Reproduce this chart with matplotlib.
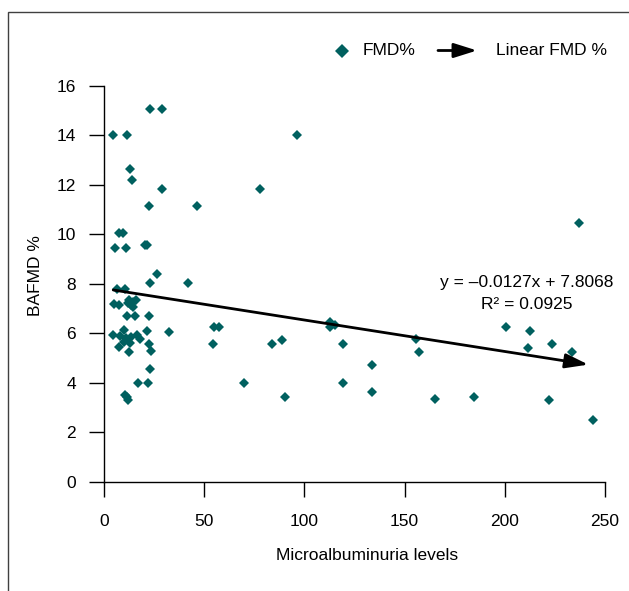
import matplotlib
matplotlib.use("Agg")
import matplotlib.pyplot as plt
from matplotlib.lines import Line2D
from matplotlib.patches import Rectangle, FancyArrowPatch

plt.rcParams['font.family'] = ['Liberation Sans', 'DejaVu Sans']

# --------------------------------------
#    DATA
# --------------------------------------
micro = [23.1, 28.8, 4.6, 11.5, 12.8, 13.8, 28.8, 22.6, 46.6,
         7.5, 9.6, 5.5, 11.0, 20.5, 21.6, 26.5, 22.9, 42.1,
         6.6, 10.5, 5.0, 7.7, 12.5, 14.3, 15.9, 13.3, 14.6, 12.0,
         11.4, 15.7, 22.6, 10.0, 21.3, 32.2,
         4.6, 8.0, 10.8, 13.3, 16.6, 18.0, 10.0, 13.0, 22.5,
         7.5, 23.7, 12.5, 23.2, 17.1, 22.1, 10.4, 11.5, 12.0,
         96.5, 77.8, 54.9, 57.5, 54.5, 83.8, 88.6, 112.8, 115.3, 112.8,
         119.1, 133.6, 69.9, 119.4, 133.7, 90.3,
         236.9, 200.6, 212.6, 211.7, 223.7, 233.7,
         155.7, 157.2, 165.2, 184.6, 221.9, 244.2]
fmd = [15.06, 15.06, 13.99, 13.99, 12.62, 12.19, 11.81, 11.14, 11.14,
       10.05, 10.05, 9.46, 9.46, 9.58, 9.56, 8.38, 8.03, 8.03,
       7.80, 7.77, 7.17, 7.15, 7.36, 7.28, 7.36, 7.15, 7.08, 7.22,
       6.70, 6.70, 6.70, 6.13, 6.09, 6.05,
       5.93, 5.89, 5.80, 5.86, 5.93, 5.76, 5.65, 5.62, 5.58,
       5.43, 5.27, 5.25, 4.56, 4.01, 4.00, 3.51, 3.42, 3.31,
       13.99, 11.81, 6.27, 6.27, 5.57, 5.57, 5.73, 6.45, 6.34, 6.24,
       5.56, 4.72, 3.98, 3.98, 3.64, 3.44,
       10.47, 6.27, 6.09, 5.42, 5.57, 5.26,
       5.76, 5.25, 3.35, 3.44, 3.31, 2.50]

slope = -0.0127
intercept = 7.8068
r2 = 0.0925

xticks = [0, 50, 100, 150, 200, 250]
yticks = [0, 2, 4, 6, 8, 10, 12, 14, 16]

teal = "#00605f"

# --------------------------------------
#    FIGURE
# --------------------------------------
fig = plt.figure(figsize=(6.29, 5.91), dpi=100)
ax = fig.add_axes([104/629, 1-482/591, 501/629, 396.5/591])

ax.plot(micro, fmd, "D", color=teal, markersize=5.4, markeredgewidth=0, zorder=3)

# trend line as arrow
x0 = min(micro)
x1 = max(micro) - 2.5
ax.annotate("", xy=(x1, slope*x1 + intercept), xytext=(x0, slope*x0 + intercept),
            arrowprops=dict(arrowstyle="-|>,head_length=0.7,head_width=0.22", mutation_scale=20,
                            lw=2, color="black", shrinkA=0, shrinkB=0), zorder=4)

ax.text(0.843, 0.502, "y = \u2013%.4fx + %.4f" % (-slope, intercept),
        transform=ax.transAxes, ha="center", va="center", fontsize=12.5)
ax.text(0.843, 0.447, "R\u00b2 = %.4f" % r2, transform=ax.transAxes, ha="center", va="center", fontsize=12.5)

ax.set_xlim(0, 250)
ax.set_ylim(0, 16)
ax.set_xticks(xticks)
ax.set_yticks(yticks)
ax.tick_params(direction="out", length=11, width=1, labelsize=12.5)
ax.tick_params(axis="x", pad=12)
ax.tick_params(axis="y", pad=9)
ax.spines["top"].set_visible(False)
ax.spines["right"].set_visible(False)
ax.spines["left"].set_linewidth(1)
ax.spines["bottom"].set_linewidth(1)

ax.set_xlabel("Microalbuminuria levels", fontsize=12.5, va="center")
ax.xaxis.set_label_coords(0.525, -0.185)
ax.set_ylabel("BAFMD %", fontsize=12.5, va="center")
ax.yaxis.set_label_coords(-0.136, 0.52)

# --------------------------------------
#    LEGEND (drawn by hand)
# --------------------------------------
ly = 1 - 50.5/591
fig.add_artist(Line2D([342/629], [ly], marker="D", color=teal, markersize=7.5, markeredgewidth=0,
                      transform=fig.transFigure))
fig.text(363/629, ly, "FMD%", ha="left", va="center", fontsize=12.5)
fig.add_artist(FancyArrowPatch((438/629, ly), (477/629, ly), transform=fig.transFigure,
                               arrowstyle="-|>,head_length=0.7,head_width=0.22", mutation_scale=20,
                               lw=2, color="black", shrinkA=0, shrinkB=0))
fig.text(496/629, ly, "Linear FMD %", ha="left", va="center", fontsize=12.5)

# frame round the figure (only top and left are visible)
fig.add_artist(Rectangle((8/629, -0.1), 1.2, 1.1 - 12/591, transform=fig.transFigure,
                         fill=False, edgecolor="#404040", lw=1))

fig.savefig("out.png", dpi=100)
